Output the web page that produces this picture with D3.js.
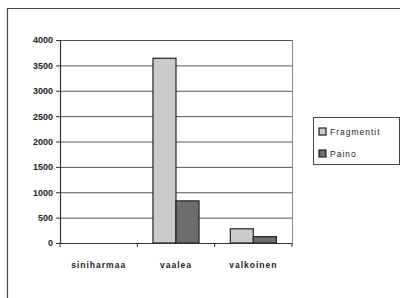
<!DOCTYPE html>
<meta charset="utf-8" />
<title>Fragmentit ja paino</title>
<style>
  body { margin: 0; background: #fff; }
  text { font-family: "Liberation Sans", Arial, sans-serif; fill: #222; }
  .tick text { font-size: 9px; font-weight: bold; }
  .grid line { stroke: #555; stroke-width: 1px; }
</style>
<body>
<script src="https://cdn.jsdelivr.net/npm/d3@7"></script>
<script>
  var categories = ["siniharmaa", "vaalea", "valkoinen"];
  var seriesNames = ["Fragmentit", "Paino"];
  var fragmentit = [0, 3640, 280];
  var paino = [0, 830, 125];
  var yTicks = [0, 500, 1000, 1500, 2000, 2500, 3000, 3500, 4000];

  var width = 404, height = 298;
  var plot = { left: 60, right: 292, top: 40, bottom: 243 };
  var colors = { Fragmentit: "#cbcbcb", Paino: "#6e6e6e" };

  var svg = d3.select("body").append("svg")
    .attr("width", width)
    .attr("height", height);

  // outer chart frame (scanned look: only top and left visible)
  svg.append("path")
    .attr("d", "M7.5,298 V8.5 H400")
    .attr("fill", "none")
    .attr("stroke", "#444")
    .attr("stroke-width", 1.2);

  var x = d3.scaleBand().domain(categories).range([plot.left, plot.right]);
  var xs = d3.scaleBand().domain(seriesNames).range([0, x.bandwidth()])
    .paddingInner(0).paddingOuter(0.68);
  var y = d3.scaleLinear().domain([0, 4000]).range([plot.bottom, plot.top]);

  // gridlines
  svg.append("g").attr("class", "grid")
    .selectAll("line").data(yTicks.slice(1)).enter().append("line")
    .attr("x1", plot.left).attr("x2", plot.right)
    .attr("y1", function (d) { return y(d) + 0.5; })
    .attr("y2", function (d) { return y(d) + 0.5; });

  // right plot edge
  svg.append("line")
    .attr("x1", plot.right + 0.5).attr("x2", plot.right + 0.5)
    .attr("y1", plot.top).attr("y2", plot.bottom)
    .attr("stroke", "#888");

  // bars
  var rows = categories.map(function (c, i) {
    return { cat: c, values: [fragmentit[i], paino[i]] };
  });
  var groups = svg.append("g").selectAll("g").data(rows).enter().append("g")
    .attr("transform", function (d) { return "translate(" + x(d.cat) + ",0)"; });
  groups.selectAll("rect")
    .data(function (d) {
      return d.values.map(function (v, j) { return { s: seriesNames[j], v: v }; });
    })
    .enter().append("rect")
    .filter(function (d) { return d.v > 0; })
    .attr("x", function (d) { return xs(d.s); })
    .attr("width", xs.bandwidth())
    .attr("y", function (d) { return y(d.v); })
    .attr("height", function (d) { return y(0) - y(d.v); })
    .attr("fill", function (d) { return colors[d.s]; })
    .attr("stroke", "#222")
    .attr("stroke-width", 1.2);

  // y axis
  var yAxis = svg.append("g")
    .attr("transform", "translate(" + plot.left + ",0)")
    .call(d3.axisLeft(y).tickValues(yTicks).tickFormat(d3.format("d")).tickSize(4).tickPadding(3));
  yAxis.select(".domain").attr("stroke", "#333").attr("stroke-width", 1.2);
  yAxis.selectAll(".tick line").attr("stroke", "#333");

  // x axis
  var xAxis = svg.append("g")
    .attr("transform", "translate(0," + plot.bottom + ")")
    .call(d3.axisBottom(x).tickSize(0).tickPadding(19));
  xAxis.select(".domain").attr("stroke", "#333").attr("stroke-width", 1.2);
  xAxis.selectAll(".tick text").style("letter-spacing", "1px").style("font-size", "8.5px");
  xAxis.selectAll(".bound").data(d3.range(categories.length + 1)).enter().append("line")
    .attr("x1", function (i) { return plot.left + i * x.bandwidth(); })
    .attr("x2", function (i) { return plot.left + i * x.bandwidth(); })
    .attr("y1", 0).attr("y2", 4)
    .attr("stroke", "#333");

  // legend
  var legend = svg.append("g").attr("transform", "translate(313,117)");
  legend.append("rect")
    .attr("x", 0.5).attr("y", 0.5).attr("width", 86).attr("height", 47)
    .attr("fill", "#fff").attr("stroke", "#444");
  var items = legend.selectAll(".item").data(seriesNames).enter().append("g")
    .attr("transform", function (d, i) { return "translate(6," + (11 + i * 22) + ")"; });
  items.append("rect")
    .attr("width", 7).attr("height", 7)
    .attr("fill", function (d) { return colors[d]; })
    .attr("stroke", "#222").attr("stroke-width", 1.2);
  items.append("text")
    .attr("x", 11).attr("y", 7)
    .style("font-size", "8.5px")
    .style("letter-spacing", "1px")
    .text(function (d) { return d; });
</script>
</body>
